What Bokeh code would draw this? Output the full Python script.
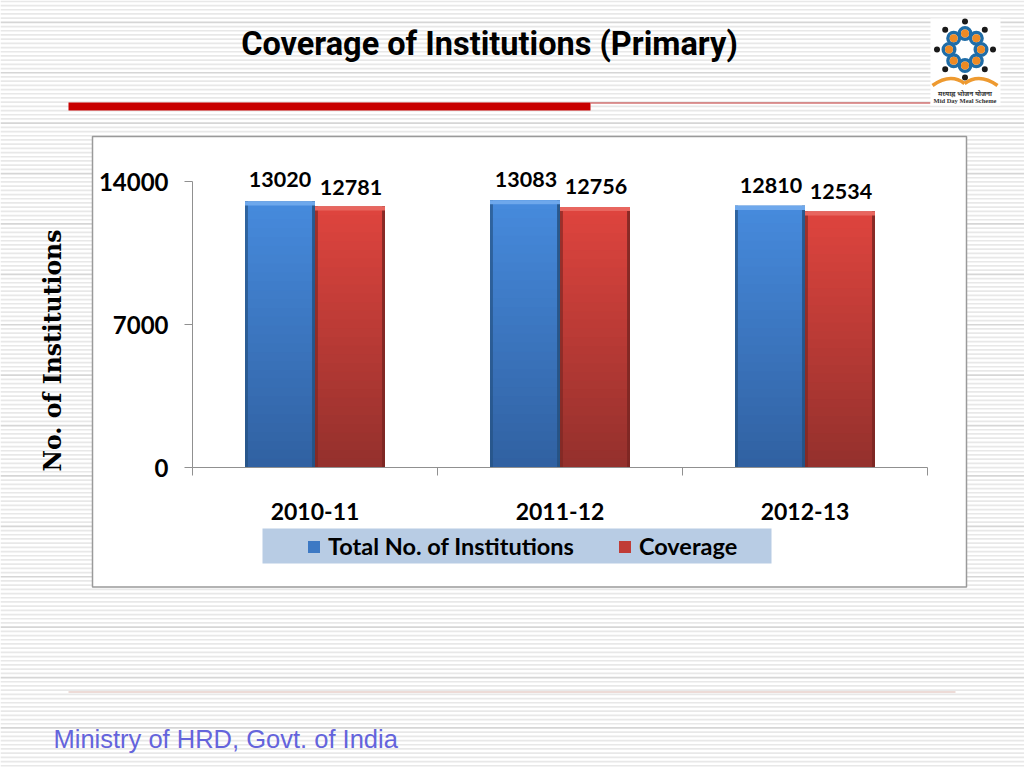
import math
from bokeh.plotting import figure
from bokeh.core.properties import value
from bokeh.models import (Range1d, FixedTicker, Label, Legend, LegendItem, LinearAxis,
                          LabelSet, ColumnDataSource)
from bokeh.embed import file_html
from bokeh.resources import INLINE

years = ["2010-11", "2011-12", "2012-13"]
total_institutions = [13020, 13083, 12810]
coverage = [12781, 12756, 12534]
y_ticks = [0, 7000, 14000]
series_names = ["Total No. of Institutions", "Coverage"]

W, H = 1024, 768
LEFT, RIGHT, TOP, BOTTOM = 192, 927, 181, 467
GROUP_PX = (RIGHT - LEFT) / len(years)
UNIT_PX = (BOTTOM - TOP) / 14000
BOLD = "Lato"

p = figure(width=W, height=H, output_backend="svg", toolbar_location=None,
           x_axis_location=None, y_axis_location=None,
           x_range=Range1d(-LEFT / GROUP_PX, (W - LEFT) / GROUP_PX),
           y_range=Range1d((BOTTOM - H) / UNIT_PX, BOTTOM / UNIT_PX),
           min_border=0)
p.extra_x_ranges = {"px": Range1d(0, W)}
p.extra_y_ranges = {"px": Range1d(H, 0)}
p.outline_line_color = None
p.grid.visible = False
p.background_fill_color = "white"
p.border_fill_color = "white"

PX = dict(x_range_name="px", y_range_name="px")

def box(l, r, t, b, color, line=None, lw=1):
    p.quad(left=l, right=r, top=t, bottom=b, fill_color=color, line_color=line, line_width=lw,
           level="underlay", **PX)

# striped slide background
sy = 0.0
i = 0
while sy < H:
    box(0, W, sy, sy + 1.7, "#d6d6d6" if i % 12 == 5 else "#e8e8e8")
    sy += 4.2
    i += 1

# chart panel, rules, legend band
box(92, 966, 136, 586.5, "white", line="#9a9a9a", lw=1.5)
box(262, 771, 528, 563, "#b8cce4")
box(68, 590, 102, 110, "#c80000")
box(590, 930, 102, 103, "#c03030")
box(68, 955, 691, 692, "#dcb8b0")
box(930, 1000, 18, 105, "white")

# bars: vertical gradient drawn tallest first, from the values
BAR_W = 70 / GROUP_PX
def lerp(a, b, t):
    return "#%02x%02x%02x" % tuple(round(a[k] + (b[k] - a[k]) * t) for k in range(3))

def bars(values, offset, top_c, bot_c, cap_c, dark_c):
    xs = [k + 0.5 + offset for k in range(len(values))]
    base = p.vbar(x=xs, top=values, bottom=0, width=BAR_W, color=lerp(top_c, bot_c, 0.4), line_color=None)
    n = 30
    for s in range(n, 0, -1):
        p.vbar(x=xs, top=[v * s / n for v in values], bottom=0, width=BAR_W,
               color=lerp(bot_c, top_c, s / n), line_color=None)
    edge = 0.012
    p.vbar(x=[x - BAR_W / 2 + edge / 2 for x in xs], top=values, width=edge, color=dark_c, line_color=None, alpha=0.65)
    p.vbar(x=[x + BAR_W / 2 - edge / 2 for x in xs], top=values, width=edge, color=dark_c, line_color=None, alpha=0.85)
    p.vbar(x=xs, top=values, bottom=[v - 200 for v in values], width=BAR_W, color=cap_c, line_color=None)
    return base

blue = bars(total_institutions, -BAR_W / 2, (70, 138, 220), (48, 96, 160), "#6ea8ec", "#24507f")
red = bars(coverage, BAR_W / 2, (222, 68, 62), (146, 48, 44), "#e8665f", "#7a2622")

# axes, placed inside the full-canvas frame
xa = LinearAxis(fixed_location=0, bounds=(0, len(years)))
xa.ticker = FixedTicker(ticks=[k + 0.5 for k in range(len(years))], minor_ticks=list(range(len(years) + 1)))
xa.major_label_overrides = {k + 0.5: y_ for k, y_ in enumerate(years)}
xa.major_tick_line_color = None
xa.minor_tick_line_color = "#909090"
xa.minor_tick_out = 8
xa.minor_tick_in = 0
xa.axis_line_color = "#909090"
xa.major_label_text_font = BOLD
xa.major_label_text_font_style = "bold"
xa.major_label_text_font_size = "23px"
xa.major_label_text_color = "black"
xa.major_label_standoff = 27
p.add_layout(xa, "below")

ya = LinearAxis(fixed_location=0, bounds=(0, 14000))
ya.ticker = FixedTicker(ticks=y_ticks)
ya.major_label_overrides = {t: str(t) for t in y_ticks}
ya.major_tick_line_color = "#909090"
ya.major_tick_out = 8
ya.major_tick_in = 0
ya.minor_tick_line_color = None
ya.axis_line_color = "#909090"
ya.major_label_text_font = BOLD
ya.major_label_text_font_style = "bold"
ya.major_label_text_font_size = "24px"
ya.major_label_text_color = "black"
ya.major_label_standoff = 16
p.add_layout(ya, "left")

# value labels
label_x = [k + 0.5 - BAR_W / 2 for k in range(3)] + [k + 0.5 + BAR_W / 2 for k in range(3)]
label_y = total_institutions + coverage
label_t = [str(v) for v in label_y]
lift = [22, 21, 20, 19, 20, 20]
shift = [0, 1, 1, 1, 1, 1]
src = ColumnDataSource(dict(x=label_x, y=label_y, t=label_t, lift=lift, shift=shift))
p.add_layout(LabelSet(x="x", y="y", text="t", source=src, x_offset="shift", y_offset="lift",
                      text_align="center", text_baseline="middle", text_font=value(BOLD),
                      text_font_style="bold", text_font_size="21.5px", text_color="black"))

# legend
legend = Legend(items=[LegendItem(label=series_names[0], renderers=[blue], index=0),
                       LegendItem(label=series_names[1], renderers=[red], index=0)],
                orientation="horizontal", location=(306, H - 560),
                padding=0, margin=0, spacing=43, label_standoff=7, glyph_width=15, glyph_height=15,
                label_text_font=BOLD, label_text_font_style="bold", label_text_font_size="23.5px",
                label_text_color="black", background_fill_alpha=0, border_line_color=None)
p.add_layout(legend)

def text(x, y, s, font, size, color="black", style="normal", align="left", angle=0):
    p.add_layout(Label(x=x, y=y, text=s, text_font=font, text_font_style=style,
                       text_font_size=size, text_color=color, text_align=align,
                       text_baseline="middle", angle=angle, **PX))

text(493, 43, "Coverage  of Institutions (Primary)", "Roboto", "32.5px", style="bold", align="center")
text(52, 350, "No. of Institutions", "DejaVu Serif", "23.5px", style="bold", align="center", angle=math.pi / 2)
text(53, 738.5, "Ministry of HRD, Govt. of India", "Liberation Sans", "25.5px", color="#6464dc")

# logo
cx, cy = 964.5, 49
ang = [k * math.pi / 4 for k in range(8)]
ox = [cx + 16 * math.cos(a) for a in ang]
oy = [cy + 16 * math.sin(a) for a in ang]
bx = [cx + 28 * math.cos(a) for a in ang]
by = [cy + 28 * math.sin(a) for a in ang]
p.annulus(x=ox, y=oy, inner_radius=4, outer_radius=7.5, color="#1f6da8", line_color=None, **PX)
p.circle(x=ox, y=oy, radius=4, color="#ee8a24", line_color=None, **PX)
p.circle(x=bx, y=by, radius=3, color="#1a1a1a", line_color=None, **PX)
p.quadratic(x0=[932, 997], y0=[85, 85], x1=[964, 964], y1=[83, 83], cx=[950, 979], cy=[72, 72],
            line_color="#ee9a30", line_width=3.5, **PX)
text(964.5, 99.5, "Mid Day Meal Scheme", "Liberation Serif", "6.5px", color="#333333", style="bold", align="center")
text(964.5, 92.5, "मध्याह्न भोजन योजना", "Noto Sans", "6.5px", color="#333333", style="bold", align="center")

open("out.html", "w").write(file_html(p, INLINE))
